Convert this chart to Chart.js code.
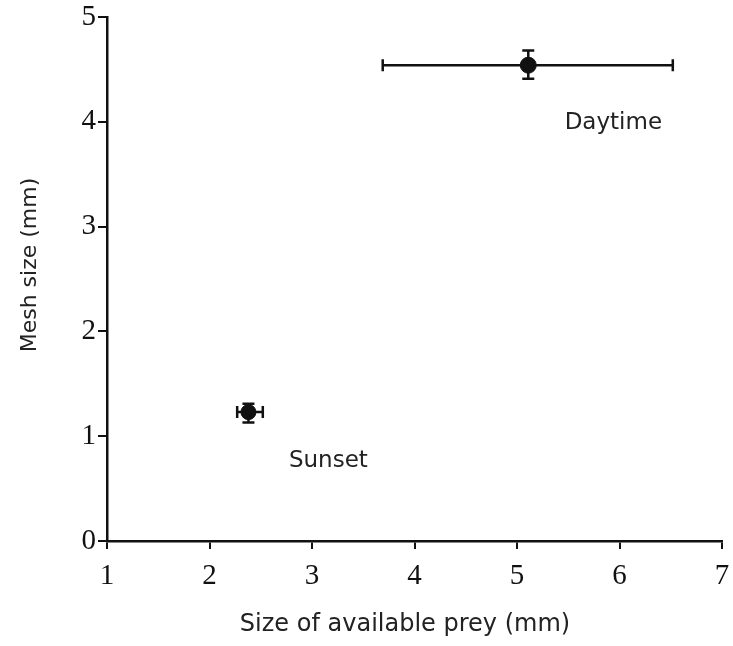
<!DOCTYPE html>
<html>
<head>
<meta charset="utf-8">
<script src="https://cdn.jsdelivr.net/npm/chart.js@4/dist/chart.umd.min.js"></script>
<style>
  html, body { margin: 0; padding: 0; background: #fff; }
  #wrap { width: 733px; height: 646px; position: relative; }
</style>
</head>
<body>
<div id="wrap"><canvas id="chart"></canvas></div>
<script>
// data
const periods = ['Daytime', 'Sunset'];
const preySize = [5.11, 2.38];      // x, mm
const preyLow = [3.69, 2.27];
const preyHigh = [6.52, 2.52];
const meshSize = [4.54, 1.23];      // y, mm
const meshLow = [4.41, 1.13];
const meshHigh = [4.68, 1.31];
const labelAt = [[5.94, 3.99], [3.16, 0.76]];   // where the period names sit
const xTicks = [1, 2, 3, 4, 5, 6, 7];
const yTicks = [0, 1, 2, 3, 4, 5];
const xTitle = 'Size of available prey (mm)';
const yTitle = 'Mesh size (mm)';

const ink = '#111';
const textInk = '#222';

const errorBars = {
    id: 'errorBars',
    afterDatasetsDraw(chart) {
        const ctx = chart.ctx;
        const x = chart.scales.x, y = chart.scales.y;
        ctx.save();
        ctx.strokeStyle = ink;
        ctx.lineWidth = 2.5;
        preySize.forEach((v, i) => {
            const cx = x.getPixelForValue(v), cy = y.getPixelForValue(meshSize[i]);
            const x0 = x.getPixelForValue(preyLow[i]), x1 = x.getPixelForValue(preyHigh[i]);
            const y0 = y.getPixelForValue(meshLow[i]), y1 = y.getPixelForValue(meshHigh[i]);
            const cap = 6;
            ctx.beginPath();
            ctx.moveTo(x0, cy); ctx.lineTo(x1, cy);
            ctx.moveTo(x0, cy - cap); ctx.lineTo(x0, cy + cap);
            ctx.moveTo(x1, cy - cap); ctx.lineTo(x1, cy + cap);
            ctx.moveTo(cx, y0); ctx.lineTo(cx, y1);
            ctx.moveTo(cx - cap, y0); ctx.lineTo(cx + cap, y0);
            ctx.moveTo(cx - cap, y1); ctx.lineTo(cx + cap, y1);
            ctx.stroke();
        });
        ctx.fillStyle = textInk;
        ctx.font = '23px "DejaVu Sans"';
        ctx.textAlign = 'center';
        ctx.textBaseline = 'middle';
        periods.forEach((name, i) => {
            ctx.fillText(name, x.getPixelForValue(labelAt[i][0]), y.getPixelForValue(labelAt[i][1]));
        });
        ctx.restore();
    },
    afterDraw(chart) {
        // axis titles, placed where the figure has them
        const ctx = chart.ctx;
        ctx.save();
        ctx.fillStyle = textInk;
        ctx.textAlign = 'center';
        ctx.textBaseline = 'middle';
        ctx.font = '24px "DejaVu Sans"';
        ctx.fillText(xTitle, 405, 625);
        ctx.translate(30, 265);
        ctx.rotate(-Math.PI / 2);
        ctx.font = '22px "DejaVu Sans"';
        ctx.fillText(yTitle, 0, 0);
        ctx.restore();
    }
};

new Chart(document.getElementById('chart'), {
    type: 'scatter',
    data: {
        datasets: [{
            data: preySize.map((v, i) => ({x: v, y: meshSize[i]})),
            backgroundColor: ink,
            borderColor: ink,
            pointRadius: [8, 7.5],
            pointHoverRadius: [8, 7.5]
        }]
    },
    options: {
        responsive: true,
        maintainAspectRatio: false,
        animation: false,
        layout: { padding: { top: 17, right: 11, left: 0, bottom: 3 } },
        plugins: { legend: { display: false }, tooltip: { enabled: false } },
        scales: {
            x: {
                type: 'linear',
                min: 1, max: 7,
                afterBuildTicks: s => { s.ticks = xTicks.map(v => ({value: v})); },
                afterFit: s => { s.height = 102; s.paddingLeft = 0; s.paddingRight = 0; },
                border: { color: ink, width: 2.5 },
                grid: { drawOnChartArea: false, color: ink, lineWidth: 2, tickLength: 8 },
                ticks: { color: ink, padding: 10, font: { family: '"Liberation Serif"', size: 29 } }
            },
            y: {
                type: 'linear',
                min: 0, max: 5,
                afterBuildTicks: s => { s.ticks = yTicks.map(v => ({value: v})); },
                afterFit: s => { s.width = 107; s.paddingTop = 0; s.paddingBottom = 0; },
                border: { color: ink, width: 2.5 },
                grid: { drawOnChartArea: false, color: ink, lineWidth: 2, tickLength: 9 },
                ticks: { color: ink, padding: 2, font: { family: '"Liberation Serif"', size: 29 } }
            }
        }
    },
    plugins: [errorBars]
});
</script>
</body>
</html>
